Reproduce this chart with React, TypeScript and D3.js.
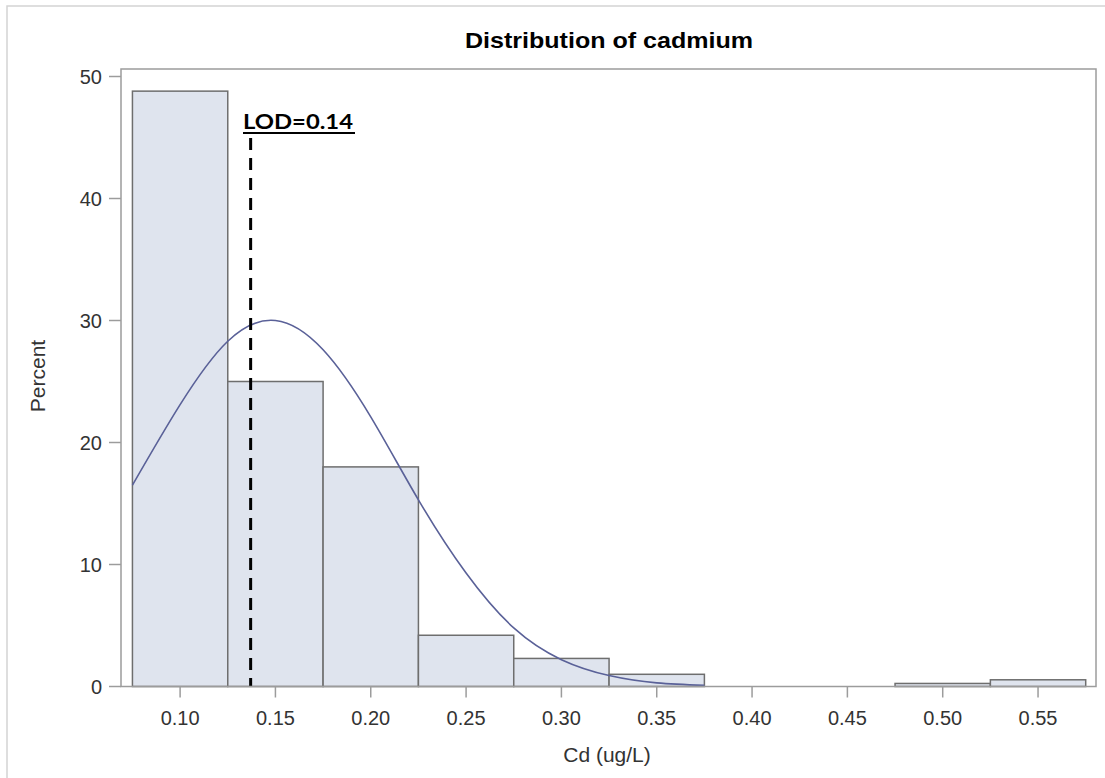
import React from "react";
import * as d3 from "d3";

// ---- data ----
const binMids = [0.1, 0.15, 0.2, 0.25, 0.3, 0.35, 0.4, 0.45, 0.5, 0.55];
const binPercents = [48.8, 25.0, 18.0, 4.2, 2.3, 1.0, 0, 0, 0.25, 0.55];
const binWidth = 0.05;

const curveX = [0.075, 0.1, 0.125, 0.15, 0.175, 0.2, 0.225, 0.25, 0.275, 0.3, 0.325, 0.35, 0.375];
const curveY = [16.5, 23.1, 28.3, 30.0, 27.6, 22.1, 15.3, 9.3, 4.8, 2.2, 0.9, 0.3, 0.1];

const xTicks = [0.1, 0.15, 0.2, 0.25, 0.3, 0.35, 0.4, 0.45, 0.5, 0.55];
const yTicks = [0, 10, 20, 30, 40, 50];
const lodValue = 0.137;
const lodLabel = "LOD=0.14";
const titleText = "Distribution of cadmium";
const xLabel = "Cd (ug/L)";
const yLabel = "Percent";

const W = 1105;
const H = 778;
const frame = { left: 121, top: 69, right: 1096, bottom: 686.5 };

export default function App() {
  const x = d3.scaleLinear().domain([0.069, 0.5804]).range([frame.left, frame.right]);
  const y = d3.scaleLinear().domain([0, 50]).range([686.5, 76.5]);

  const line = d3
    .line<number>()
    .x((_, i) => x(curveX[i]))
    .y((d) => y(d))
    .curve(d3.curveNatural);

  const font = "'Liberation Sans', Arial, sans-serif";
  const axisColor = "#9c9c9c";
  const textColor = "#333";

  return (
    <svg
      width={W}
      height={H}
      style={{ position: "absolute", left: 0, top: 0, background: "#fff" }}
      fontFamily={font}
    >
      {/* outer border */}
      <rect x={7} y={6} width={W + 20} height={H + 20} fill="#fff" stroke="#d4d4d4" strokeWidth={1.5} />

      {/* title */}
      <text
        x={609}
        y={48}
        textAnchor="middle"
        fontSize={22}
        fontWeight="bold"
        fill="#000"
        textLength={288}
        lengthAdjust="spacingAndGlyphs"
      >
        {titleText}
      </text>

      {/* bars */}
      {binMids.map((m, i) =>
        binPercents[i] > 0 ? (
          <rect
            key={i}
            x={x(m - binWidth / 2)}
            y={y(binPercents[i])}
            width={x(m + binWidth / 2) - x(m - binWidth / 2)}
            height={y(0) - y(binPercents[i])}
            fill="#dfe4ee"
            stroke="#6e6e6e"
            strokeWidth={1.5}
          />
        ) : null
      )}

      {/* normal curve */}
      <path d={line(curveY) || ""} fill="none" stroke="#5a6198" strokeWidth={1.6} />

      {/* LOD line */}
      <line
        x1={x(lodValue)}
        x2={x(lodValue)}
        y1={138}
        y2={y(0)}
        stroke="#000"
        strokeWidth={3}
        strokeDasharray="12,8"
      />
      <text
        x={243}
        y={129}
        fontSize={21}
        fontWeight="bold"
        fill="#000"
        fontFamily="Lato, 'Liberation Sans', sans-serif"
        textLength={110}
        lengthAdjust="spacingAndGlyphs"
      >
        {lodLabel}
      </text>
      <line x1={243} x2={355} y1={133} y2={133} stroke="#000" strokeWidth={2} />

      {/* frame */}
      <rect
        x={frame.left}
        y={frame.top}
        width={frame.right - frame.left}
        height={frame.bottom - frame.top}
        fill="none"
        stroke={axisColor}
        strokeWidth={1.5}
      />

      {/* y axis ticks */}
      {yTicks.map((t) => (
        <g key={t}>
          <line x1={109} x2={frame.left} y1={y(t)} y2={y(t)} stroke={axisColor} strokeWidth={1.5} />
          <text x={102} y={y(t) + 7} textAnchor="end" fontSize={20} fill={textColor}>
            {t}
          </text>
        </g>
      ))}

      {/* x axis ticks */}
      {xTicks.map((t) => (
        <g key={t}>
          <line x1={x(t)} x2={x(t)} y1={frame.bottom} y2={frame.bottom + 11} stroke={axisColor} strokeWidth={1.5} />
          <text x={x(t)} y={725} textAnchor="middle" fontSize={20} fill={textColor}>
            {t.toFixed(2)}
          </text>
        </g>
      ))}

      {/* axis labels */}
      <text x={607} y={762} textAnchor="middle" fontSize={21} fill={textColor}>
        {xLabel}
      </text>
      <text
        transform={`translate(45, 376) rotate(-90)`}
        textAnchor="middle"
        fontSize={21}
        fill={textColor}
      >
        {yLabel}
      </text>
    </svg>
  );
}
